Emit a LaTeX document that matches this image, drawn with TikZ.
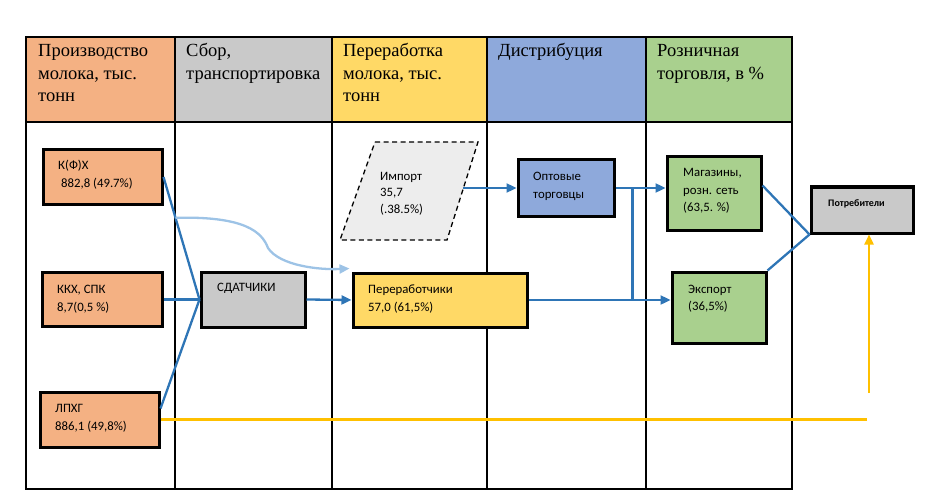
\documentclass[tikz,border=0pt]{standalone}
\usepackage{fontspec}
\setmainfont{Liberation Serif}
\newfontfamily\boxfont{Carlito}
\usetikzlibrary{arrows.meta,calc}
\newcommand\mlines[1]{\begin{tabular}[t]{@{}l@{}}#1\end{tabular}}
\definecolor{corange}{HTML}{F4B183}
\definecolor{cgray}{HTML}{C9C9C9}
\definecolor{cyellow}{HTML}{FFD966}
\definecolor{cblue}{HTML}{8EA9DB}
\definecolor{cgreen}{HTML}{A9D08E}
\definecolor{cline}{HTML}{2E75B6}
\definecolor{clight}{HTML}{9DC3E6}
\definecolor{cgold}{HTML}{FFC000}
\definecolor{cimport}{HTML}{EDEDED}
\tikzset{
  grid/.style={draw=black, line width=1.2pt},
  hdr/.style={anchor=base west, font=\fontsize{18.5}{22.5}\selectfont, inner sep=0pt},
  box/.style={draw=black, line width=3pt, inner sep=0pt},
  btxt/.style={anchor=base west, font=\boxfont\fontsize{12.8}{18}\selectfont, inner sep=0pt},
  conn/.style={draw=cline, line width=2.3pt},
  arr/.style={conn, -{Triangle[length=10pt,width=9pt]}},
  larr/.style={draw=clight, line width=2.3pt, -{Triangle[length=10pt,width=9pt]}},
  gold/.style={draw=cgold, line width=2.3pt},
}
\begin{document}
\begin{tikzpicture}[x=1pt,y=-1pt]
\useasboundingbox (0,0) rectangle (932,492);
% header fills
\fill[corange] (26,37) rectangle (175,122);
\fill[cgray] (175,37) rectangle (332,122);
\fill[cyellow] (332,37) rectangle (487,122);
\fill[cblue] (487,37) rectangle (646,122);
\fill[cgreen] (646,37) rectangle (792,122);
% grid
\draw[grid] (26,37) rectangle (792,489);
\draw[grid] (26,122) -- (792,122);
\foreach \x in {175,332,487,646} \draw[grid] (\x,37) -- (\x,489);
% header texts
\node[hdr] (h1) at (38,57) {\mlines{Производство\\молока, тыс.\\тонн}};
\node[hdr] (h2) at (186,57) {\mlines{Сбор,\\транспортировка}};
\node[hdr] (h3) at (343,57) {\mlines{Переработка\\молока, тыс.\\тонн}};
\node[hdr] (h4) at (498,57) {Дистрибуция};
\node[hdr] (h5) at (657,57) {\mlines{Розничная\\торговля, в \%}};
% boxes
\node[box, fill=corange, minimum width=119pt, minimum height=54pt] (kfh) at (102.5,177) {};
\node[box, fill=corange, minimum width=120pt, minimum height=54pt] (kkh) at (102,299.5) {};
\node[box, fill=corange, minimum width=119pt, minimum height=55pt] (lpx) at (99.5,419.5) {};
\node[box, fill=cgray, minimum width=104pt, minimum height=55pt] (sdat) at (253,299.5) {};
\node[box, fill=cyellow, minimum width=174pt, minimum height=54pt] (per) at (440,300) {};
\node[box, fill=cblue, minimum width=96pt, minimum height=56pt] (opt) at (566,188) {};
\node[box, fill=cgreen, minimum width=94pt, minimum height=73pt] (mag) at (714,193.5) {};
\node[box, fill=cgreen, minimum width=94pt, minimum height=71pt] (exp) at (719,307.5) {};
\node[box, fill=cgray, minimum width=102pt, minimum height=46pt] (potr) at (862,210) {};
% import parallelogram
\draw[fill=cimport, line width=1.3pt, dash pattern=on 5pt off 3.5pt] (375,142) -- (478,142) -- (447,240) -- (340,240) -- cycle;
\coordinate (impR) at (463,188);
% box texts
\node[btxt] (t1) at (58,170) {\mlines{К(Ф)Х\\\ 882,8 (49.7\%)}};
\node[btxt] (t2) at (57,293) {\mlines{ККХ, СПК\\8,7(0,5 \%)}};
\node[btxt] (t3) at (55,412) {\mlines{ЛПХГ\\886,1 (49,8\%)}};
\node[btxt] (t4) at (217,291) {СДАТЧИКИ};
\node[btxt] (t5) at (368,293) {\mlines{Переработчики\\57,0 (61,5\%)}};
\node[btxt, font=\boxfont\fontsize{12.8}{16.5}\selectfont] (t6) at (380,180) {\mlines{Импорт\\35,7\\(.38.5\%)}};
\node[btxt] (t7) at (533,180) {\mlines{Оптовые\\торговцы}};
\node[btxt, font=\boxfont\fontsize{12.8}{17.5}\selectfont] (t8) at (683,177) {\mlines{Магазины,\\розн. сеть\\(63,5. \%)}};
\node[btxt, font=\boxfont\fontsize{12.8}{17}\selectfont] (t9) at (688,293) {\mlines{Экспорт\\(36,5\%)}};
\node[btxt, font=\boxfont\bfseries\fontsize{10}{12}\selectfont] (t10) at (828,207) {Потребители};
% connectors
\draw[conn] (kfh.east) -- (sdat.west);
\draw[conn] (kkh.east) -- (sdat.west);
\draw[conn] ($(lpx.north east)+(0,18)$) -- (sdat.west);
\draw[arr] (sdat.east) -- (per.west);
\coordinate (cstart) at ($(kfh.east)!0.333!(sdat.west)$);
\draw[larr] (cstart) .. controls (245,216) and (262,232) .. (268,248) .. controls (280,266) and (320,270) .. ($(per.north west)+(-2,-3)$);
\draw[arr] (impR) -- (opt.west);
\draw[arr] (opt.east) -- (mag.west |- opt.east);
\draw[arr] (per.east) -- (exp.west |- per.east);
\coordinate (vtop) at ($(opt.east)+(17,0)$);
\draw[conn] (vtop) -- (vtop |- per.east);
\draw[conn] ($(mag.north east)+(0,30)$) -- (potr.south west);
\draw[conn] (exp.north east) -- (potr.south west);
\coordinate (yend) at (867,418);
\coordinate (ystart) at (869,393);
\draw[gold] (lpx.east) -- (lpx.east -| yend);
\draw[gold, -{Triangle[length=10pt,width=9pt]}] (ystart) -- (ystart |- potr.south);
\end{tikzpicture}
\end{document}
